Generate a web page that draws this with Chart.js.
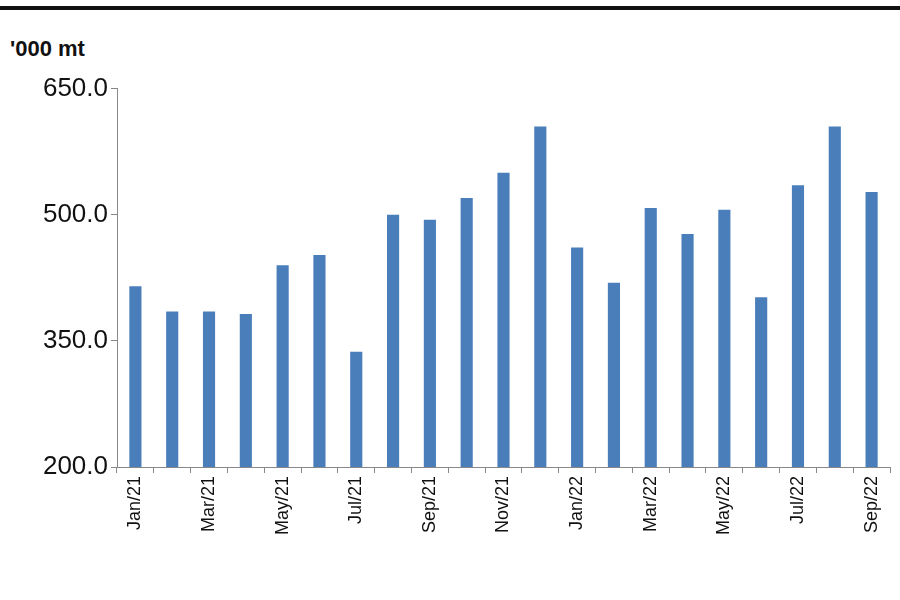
<!DOCTYPE html>
<html><head><meta charset="utf-8">
<script src="https://cdn.jsdelivr.net/npm/chart.js@4/dist/chart.umd.min.js"></script>
<style>
html,body{margin:0;background:#fff;}
#wrap{position:relative;width:900px;height:600px;}
#bar{position:absolute;left:0;top:6px;width:900px;height:4px;background:#111;}
#unit{position:absolute;left:10px;top:36px;font:bold 22px "Liberation Sans",Arial,sans-serif;color:#111;}
#box{position:absolute;left:0;top:70px;width:900px;height:530px;}
</style></head>
<body><div id="wrap"><div id="bar"></div><div id="unit">'000 mt</div><div id="box"><canvas id="c"></canvas></div></div>
<script>
// 月份 + 數值(目測自圖)
const MONTHS = ['Jan/21','Feb/21','Mar/21','Apr/21','May/21','Jun/21','Jul/21','Aug/21','Sep/21','Oct/21','Nov/21','Dec/21',
  'Jan/22','Feb/22','Mar/22','Apr/22','May/22','Jun/22','Jul/22','Aug/22','Sep/22'];
const VOLUMES = [415,385,385,382,440,452,337,500,494,520,550,605,461,419,508,477,506,402,535,605,527];
const Y_TICKS = [200,350,500,650];

new Chart(document.getElementById('c'), {
  type: 'bar',
  data: { labels: MONTHS, datasets: [{ data: VOLUMES, backgroundColor: '#4a7ebb', barPercentage: 0.33, categoryPercentage: 1 }] },
  options: {
    responsive: true, maintainAspectRatio: false, animation: false,
    layout: { padding: { right: 10, top: 8 } },
    plugins: { legend: { display: false }, tooltip: { enabled: false } },
    scales: {
      x: {
        afterFit: (s) => { s.height = 133; },
        grid: { drawOnChartArea: false, offset: true, color: '#888', tickLength: 6 },
        border: { color: '#888' },
        ticks: { color: '#111', autoSkip: false, maxRotation: 90, minRotation: 90,
          font: { size: 18, family: 'Liberation Sans' },
          callback: (v, i) => (i % 2 === 0 ? MONTHS[i] : '') },
      },
      y: {
        min: 200, max: 650,
        afterFit: (s) => { s.width = 117; },
        afterBuildTicks: (s) => { s.ticks = Y_TICKS.map((v) => ({ value: v })); },
        grid: { drawOnChartArea: false, color: '#888', tickLength: 6 },
        border: { color: '#888' },
        ticks: { color: '#111', font: { size: 26, family: 'Liberation Sans' }, callback: (v) => v.toFixed(1) },
      },
    },
  },
});
</script></body></html>
